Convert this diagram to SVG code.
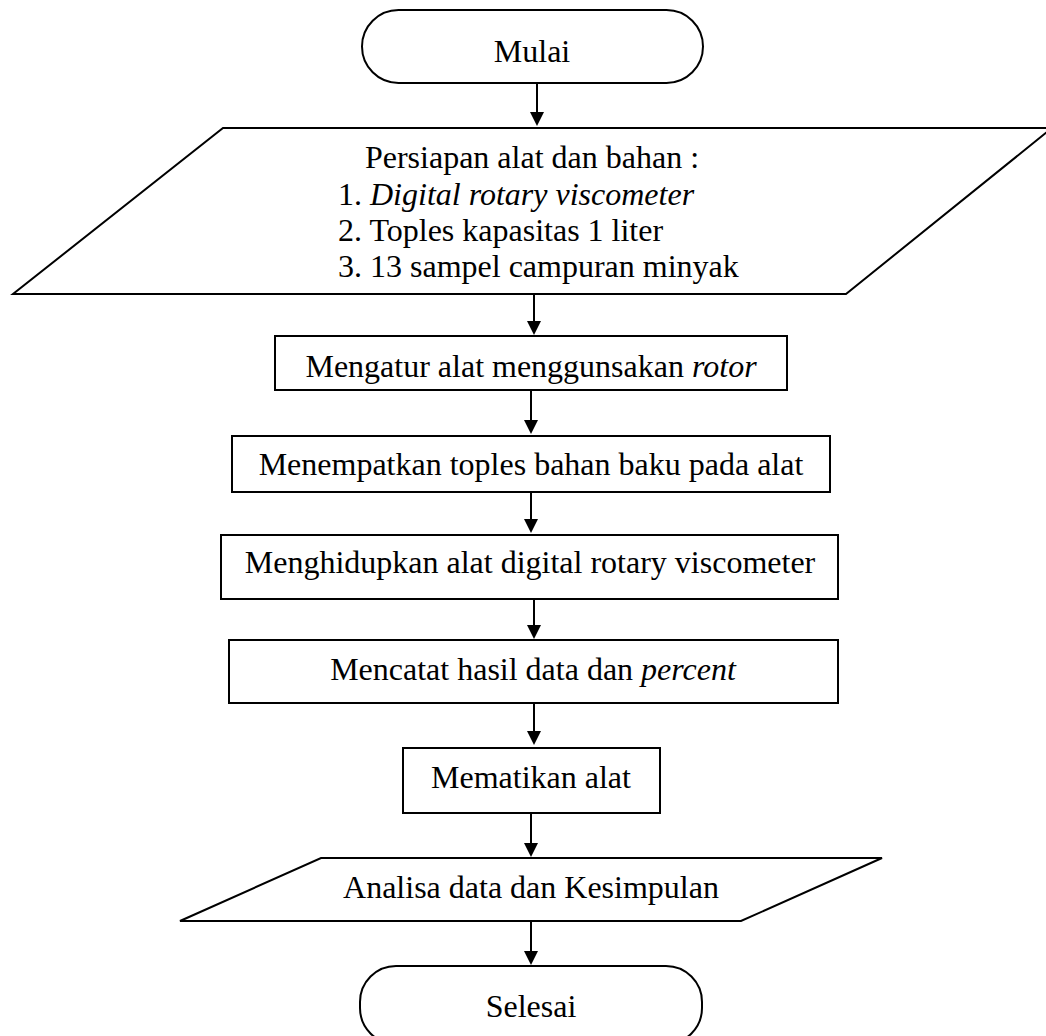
<svg xmlns="http://www.w3.org/2000/svg" width="1046" height="1036" viewBox="0 0 1046 1036">
<style>
.s{fill:#fff;stroke:#000;stroke-width:2}
.t{font-family:"Liberation Serif","Times New Roman",serif;font-size:32px;fill:#000}
.c{text-anchor:middle}
.i{font-style:italic}
.e{stroke:#000;stroke-width:2;fill:none}
.h{fill:#000}
</style>
<rect width="1046" height="1036" fill="#fff"/>
<g id="connectors">
<line class="e" x1="537" y1="83" x2="537" y2="113"/>
<polygon class="h" points="530,112 544,112 537,126"/>
<line class="e" x1="534" y1="294" x2="534" y2="322"/>
<polygon class="h" points="527,321 541,321 534,335"/>
<line class="e" x1="531" y1="390" x2="531" y2="421"/>
<polygon class="h" points="524,420 538,420 531,434"/>
<line class="e" x1="531" y1="492" x2="531" y2="520"/>
<polygon class="h" points="524,519 538,519 531,533"/>
<line class="e" x1="534" y1="599" x2="534" y2="626"/>
<polygon class="h" points="527,625 541,625 534,639"/>
<line class="e" x1="534" y1="703" x2="534" y2="732"/>
<polygon class="h" points="527,731 541,731 534,745"/>
<line class="e" x1="531" y1="813" x2="531" y2="844"/>
<polygon class="h" points="524,843 538,843 531,857"/>
<line class="e" x1="531" y1="921" x2="531" y2="952"/>
<polygon class="h" points="524,951 538,951 531,965"/>
</g>
<g id="mulai">
<rect class="s" x="362" y="10" width="341" height="73" rx="36.5" ry="36.5"/>
<text class="t c" x="532" y="62">Mulai</text>
</g>
<g id="persiapan">
<polygon class="s" points="223,128 1052,128 846,294 13,294"/>
<text class="t c" x="532" y="168">Persiapan alat dan bahan :</text>
<text class="t" x="338" y="205">1. <tspan class="i">Digital rotary viscometer</tspan></text>
<text class="t" x="338" y="241">2. Toples kapasitas 1 liter</text>
<text class="t" x="338" y="277">3. 13 sampel campuran minyak</text>
</g>
<g id="mengatur">
<rect class="s" x="275" y="336" width="512" height="54"/>
<text class="t c" x="531" y="377">Mengatur alat menggunsakan <tspan class="i">rotor</tspan></text>
</g>
<g id="menempatkan">
<rect class="s" x="232" y="436" width="598" height="56"/>
<text class="t c" x="531" y="475">Menempatkan toples bahan baku pada alat</text>
</g>
<g id="menghidupkan">
<rect class="s" x="221" y="535" width="617" height="64"/>
<text class="t c" x="530" y="573">Menghidupkan alat digital rotary viscometer</text>
</g>
<g id="mencatat">
<rect class="s" x="229" y="640" width="609" height="63"/>
<text class="t c" x="533" y="680">Mencatat hasil data dan <tspan class="i">percent</tspan></text>
</g>
<g id="mematikan">
<rect class="s" x="403" y="748" width="257" height="65"/>
<text class="t c" x="531" y="788">Mematikan alat</text>
</g>
<g id="analisa">
<polygon class="s" points="321,858 882,858 741,921 180,921"/>
<text class="t c" x="531" y="898">Analisa data dan Kesimpulan</text>
</g>
<g id="selesai">
<rect class="s" x="360" y="966" width="342" height="78" rx="36" ry="36"/>
<text class="t c" x="531" y="1017">Selesai</text>
</g>
</svg>
